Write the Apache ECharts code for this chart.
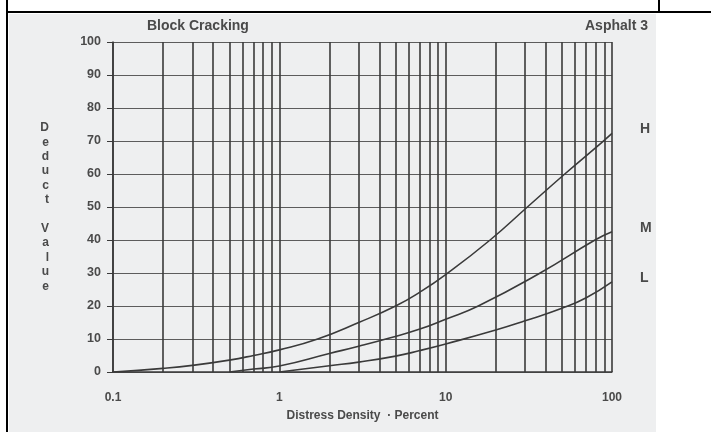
<!DOCTYPE html>
<html>
<head>
<meta charset="utf-8">
<script src="https://cdn.jsdelivr.net/npm/echarts@6/dist/echarts.min.js"></script>
<style>
  html, body { margin: 0; padding: 0; background: #ffffff; }
  #chart { width: 711px; height: 432px; }
</style>
</head>
<body>
<div id="chart"></div>
<script>
// Deduct value curves for block cracking (asphalt), by severity level
const highDensity = [0.1, 0.2, 0.3, 0.5, 0.7, 1, 1.7, 3, 5, 7, 10, 18.5, 31, 52, 87, 100];
const highValues  = [0, 1.1, 2.0, 3.6, 5.0, 6.7, 10, 15, 20, 24.2, 29.5, 40, 50, 60, 69.6, 72.3];

const mediumDensity = [0.5, 0.7, 1, 2, 3, 4.6, 7, 10, 15.7, 37, 79, 100];
const mediumValues  = [0, 0.9, 1.8, 5.6, 7.8, 10.3, 13, 16, 20, 30, 40, 42.5];

const lowDensity = [1, 2, 3, 5, 7, 10, 20, 30, 50, 70, 100];
const lowValues  = [0, 1.9, 3.0, 4.8, 6.5, 8.5, 12.7, 15.5, 19.3, 22.5, 27.3];

// Intermediate log-scale grid values within each decade
const minorGrid = [0.2, 0.3, 0.4, 0.5, 0.6, 0.7, 0.8, 0.9,
                   2, 3, 4, 5, 6, 7, 8, 9,
                   20, 30, 40, 50, 60, 70, 80, 90];
const xTickLabels = { 0.1: '0.1', 1: '1', 10: '10', 100: '100' };

const ink = '#3a3a3a';
const textInk = '#4a4a4a';
const font = '"Liberation Sans", Arial, sans-serif';

const pair = (xs, ys) => xs.map((x, i) => [x, ys[i]]);

const chart = echarts.init(document.getElementById('chart'), null, { renderer: 'canvas' });

const curve = (name, xs, ys) => ({
  type: 'line',
  name: name,
  data: pair(xs, ys),
  smooth: 0.5,
  showSymbol: false,
  symbol: 'none',
  lineStyle: { color: ink, width: 1.6 },
  endLabel: {
    show: true,
    formatter: name,
    color: textInk,
    fontFamily: font,
    fontWeight: 'bold',
    fontSize: 14,
    offset: [20, -4]
  },
  z: 5
});

chart.setOption({
  animation: false,
  backgroundColor: '#ffffff',
  graphic: [
    // scanned sheet
    { type: 'rect', shape: { x: 9, y: 14, width: 647, height: 418 }, style: { fill: '#eeeff0' }, z: -10 },
    // table frame
    { type: 'rect', shape: { x: 6, y: 0, width: 2, height: 432 }, style: { fill: '#000' } },
    { type: 'rect', shape: { x: 6, y: 11, width: 705, height: 2 }, style: { fill: '#000' } },
    { type: 'rect', shape: { x: 658, y: 0, width: 2, height: 12 }, style: { fill: '#000' } }
  ],
  title: [
    { text: 'Block Cracking', left: 142, top: 14,
      textStyle: { color: textInk, fontFamily: font, fontWeight: 'bold', fontSize: 14 } },
    { text: 'Asphalt 3', right: 58, top: 14,
      textStyle: { color: textInk, fontFamily: font, fontWeight: 'bold', fontSize: 14 } }
  ],
  grid: { left: 113, right: 99, top: 42, bottom: 60, containLabel: false },
  xAxis: {
    type: 'log',
    logBase: 10,
    min: 0.1,
    max: 100,
    name: 'Distress Density  · Percent',
    nameLocation: 'middle',
    nameGap: 38,
    nameTextStyle: { color: textInk, fontFamily: font, fontWeight: 'bold', fontSize: 12 },
    axisLine: { show: true, lineStyle: { color: ink, width: 1.5 } },
    axisTick: { show: false },
    axisLabel: {
      color: textInk, fontFamily: font, fontWeight: 'bold', fontSize: 12, margin: 20,
      formatter: v => xTickLabels[+v.toPrecision(3)] || ''
    },
    splitLine: { show: true, lineStyle: { color: ink, width: 1.6 } },
    minorTick: { show: false },
    minorSplitLine: { show: false }
  },
  yAxis: {
    type: 'value',
    min: 0,
    max: 100,
    interval: 10,
    name: 'D\ne\nd\nu\nc\nt\n\nV\na\nl\nu\ne',
    nameLocation: 'middle',
    nameRotate: 0,
    nameGap: 64,
    nameTextStyle: { color: textInk, fontFamily: font, fontWeight: 'bold', fontSize: 12, lineHeight: 14.4 },
    axisLine: { show: true, lineStyle: { color: ink, width: 1.5 } },
    axisTick: { show: true, inside: false, length: 6, lineStyle: { color: ink, width: 1 } },
    axisLabel: { color: textInk, fontFamily: font, fontWeight: 'bold', fontSize: 12.5, margin: 12 },
    splitLine: { show: true, lineStyle: { color: '#5c5c5c', width: 1 } }
  },
  series: [
    {
      type: 'line',
      data: [],
      silent: true,
      markLine: {
        silent: true,
        symbol: 'none',
        label: { show: false },
        lineStyle: { color: ink, width: 1.6, type: 'solid' },
        data: minorGrid.map(v => ({ xAxis: v }))
      }
    },
    curve('H', highDensity, highValues),
    curve('M', mediumDensity, mediumValues),
    curve('L', lowDensity, lowValues)
  ]
});
</script>
</body>
</html>
